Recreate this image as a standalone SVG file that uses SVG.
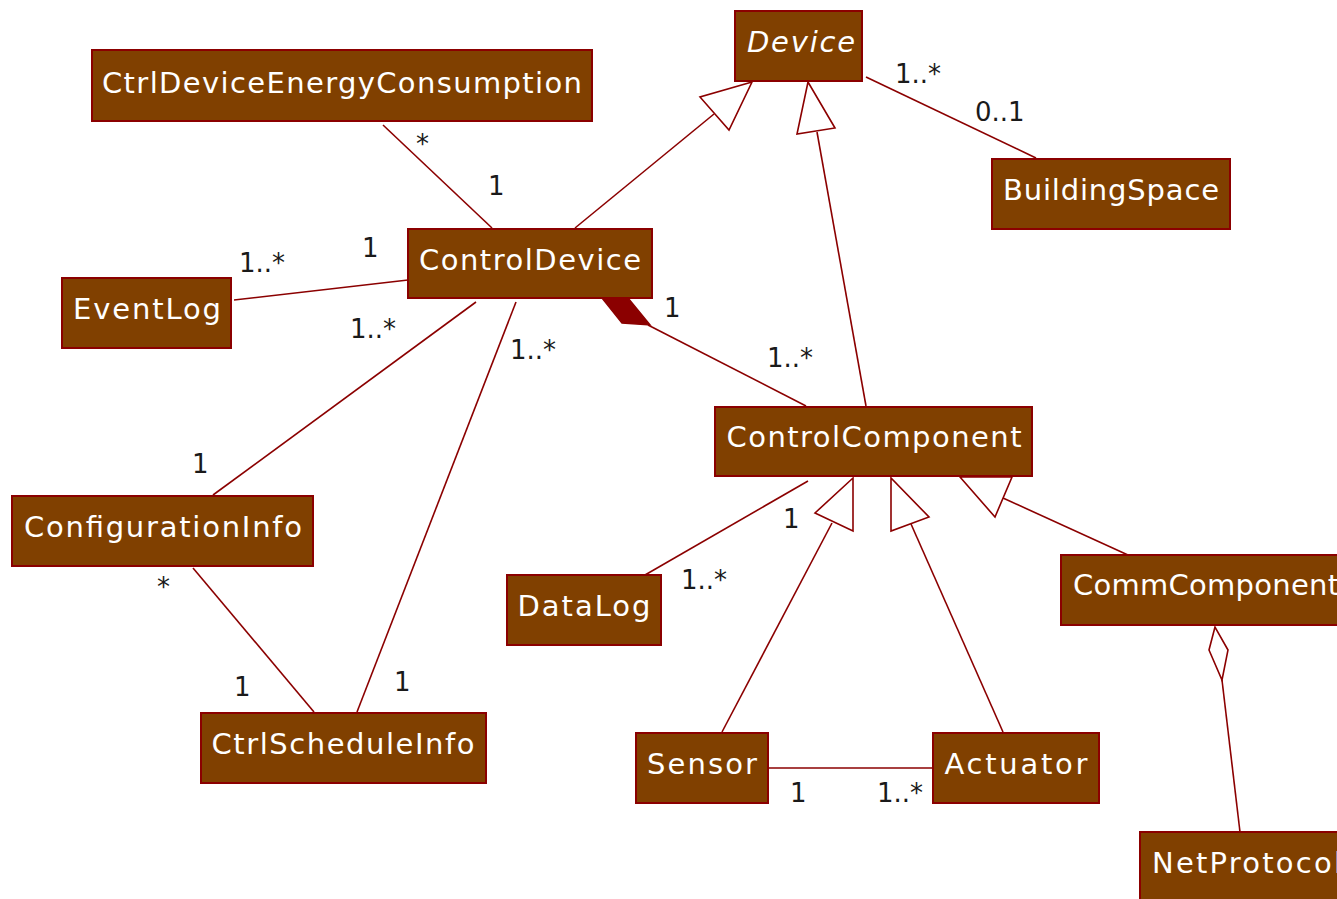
<svg xmlns="http://www.w3.org/2000/svg" width="1337" height="899" viewBox="0 0 1337 899">
<style>
.box{fill:#804000;stroke:#8b0000;stroke-width:2}
.nt{font-family:"DejaVu Sans",Verdana,sans-serif;font-size:29px;fill:#ffffff;text-anchor:middle}
.lb{font-family:"DejaVu Sans",Verdana,sans-serif;font-size:26px;fill:#1a1a1a}
.ln{stroke:#8b0000;stroke-width:1.6;fill:none}
.tri{fill:#ffffff;stroke:#8b0000;stroke-width:1.6}
</style>
<rect width="1337" height="899" fill="#ffffff"/>
<g id="connectors">
  <line class="ln" x1="383" y1="125" x2="492" y2="228"/>
  <line class="ln" x1="575" y1="228" x2="714" y2="114"/>
  <polygon class="tri" points="752,82 700,97 729,130"/>
  <line class="ln" x1="866" y1="406" x2="817" y2="132"/>
  <polygon class="tri" points="808,82 797,134 835,128"/>
  <line class="ln" x1="866" y1="77" x2="1036" y2="158"/>
  <line class="ln" x1="408" y1="280" x2="234" y2="300"/>
  <line class="ln" x1="476" y1="302" x2="213" y2="495"/>
  <line class="ln" x1="516" y1="302" x2="357" y2="712"/>
  <line class="ln" x1="193" y1="568" x2="314" y2="712"/>
  <polygon points="602,298 628,298 650,325 622,323" fill="#8b0000" stroke="#8b0000" stroke-width="1.5"/>
  <line class="ln" x1="648" y1="325" x2="806" y2="406"/>
  <line class="ln" x1="808" y1="481" x2="645" y2="575"/>
  <line class="ln" x1="832" y1="523" x2="722" y2="732"/>
  <polygon class="tri" points="853,478 815,513 853,531"/>
  <line class="ln" x1="911" y1="524" x2="1003" y2="732"/>
  <polygon class="tri" points="891,478 891,531 929,517"/>
  <line class="ln" x1="1003" y1="498" x2="1128" y2="555"/>
  <polygon class="tri" points="960,477 995,517 1012,477"/>
  <line class="ln" x1="768" y1="768" x2="933" y2="768"/>
  <line class="ln" x1="1222" y1="680" x2="1240" y2="832"/>
  <polygon class="tri" points="1215,627 1209,650 1222,680 1228,650"/>
</g>
<g id="labels">
  <text class="lb" x="416" y="153">*</text>
  <text class="lb" x="488" y="195">1</text>
  <text class="lb" x="895" y="83">1..*</text>
  <text class="lb" x="975" y="121">0..1</text>
  <text class="lb" x="362" y="257">1</text>
  <text class="lb" x="239" y="272">1..*</text>
  <text class="lb" x="350" y="338">1..*</text>
  <text class="lb" x="510" y="359">1..*</text>
  <text class="lb" x="664" y="317">1</text>
  <text class="lb" x="767" y="367">1..*</text>
  <text class="lb" x="192" y="473">1</text>
  <text class="lb" x="157" y="596">*</text>
  <text class="lb" x="234" y="696">1</text>
  <text class="lb" x="394" y="691">1</text>
  <text class="lb" x="783" y="528">1</text>
  <text class="lb" x="681" y="589">1..*</text>
  <text class="lb" x="790" y="802">1</text>
  <text class="lb" x="877" y="802">1..*</text>
</g>
<g id="Device"><rect class="box" x="735" y="11" width="127" height="70"/><text class="nt" x="801" y="52" font-style="italic" textLength="108">Device</text></g>
<g id="CtrlDeviceEnergyConsumption"><rect class="box" x="92" y="50" width="500" height="71"/><text class="nt" x="342" y="93" textLength="480">CtrlDeviceEnergyConsumption</text></g>
<g id="BuildingSpace"><rect class="box" x="992" y="159" width="238" height="70"/><text class="nt" x="1111" y="200" textLength="216">BuildingSpace</text></g>
<g id="ControlDevice"><rect class="box" x="408" y="229" width="244" height="69"/><text class="nt" x="530" y="270" textLength="222">ControlDevice</text></g>
<g id="EventLog"><rect class="box" x="62" y="278" width="169" height="70"/><text class="nt" x="147" y="319" textLength="148">EventLog</text></g>
<g id="ControlComponent"><rect class="box" x="715" y="407" width="317" height="69"/><text class="nt" x="874" y="447" textLength="295">ControlComponent</text></g>
<g id="ConfigurationInfo"><rect class="box" x="12" y="496" width="301" height="70"/><text class="nt" x="163" y="537" textLength="278">ConfigurationInfo</text></g>
<g id="CommComponent"><rect class="box" x="1061" y="555" width="290" height="70"/><text class="nt" x="1206" y="595" textLength="266">CommComponent</text></g>
<g id="DataLog"><rect class="box" x="507" y="575" width="154" height="70"/><text class="nt" x="584" y="616" textLength="133">DataLog</text></g>
<g id="CtrlScheduleInfo"><rect class="box" x="201" y="713" width="285" height="70"/><text class="nt" x="343" y="754" textLength="263">CtrlScheduleInfo</text></g>
<g id="Sensor"><rect class="box" x="636" y="733" width="132" height="70"/><text class="nt" x="702" y="774" textLength="110">Sensor</text></g>
<g id="Actuator"><rect class="box" x="933" y="733" width="166" height="70"/><text class="nt" x="1016" y="774" textLength="143">Actuator</text></g>
<g id="NetProtocol"><rect class="box" x="1140" y="832" width="220" height="80"/><text class="nt" x="1247" y="873" textLength="190">NetProtocol</text></g>
</svg>
